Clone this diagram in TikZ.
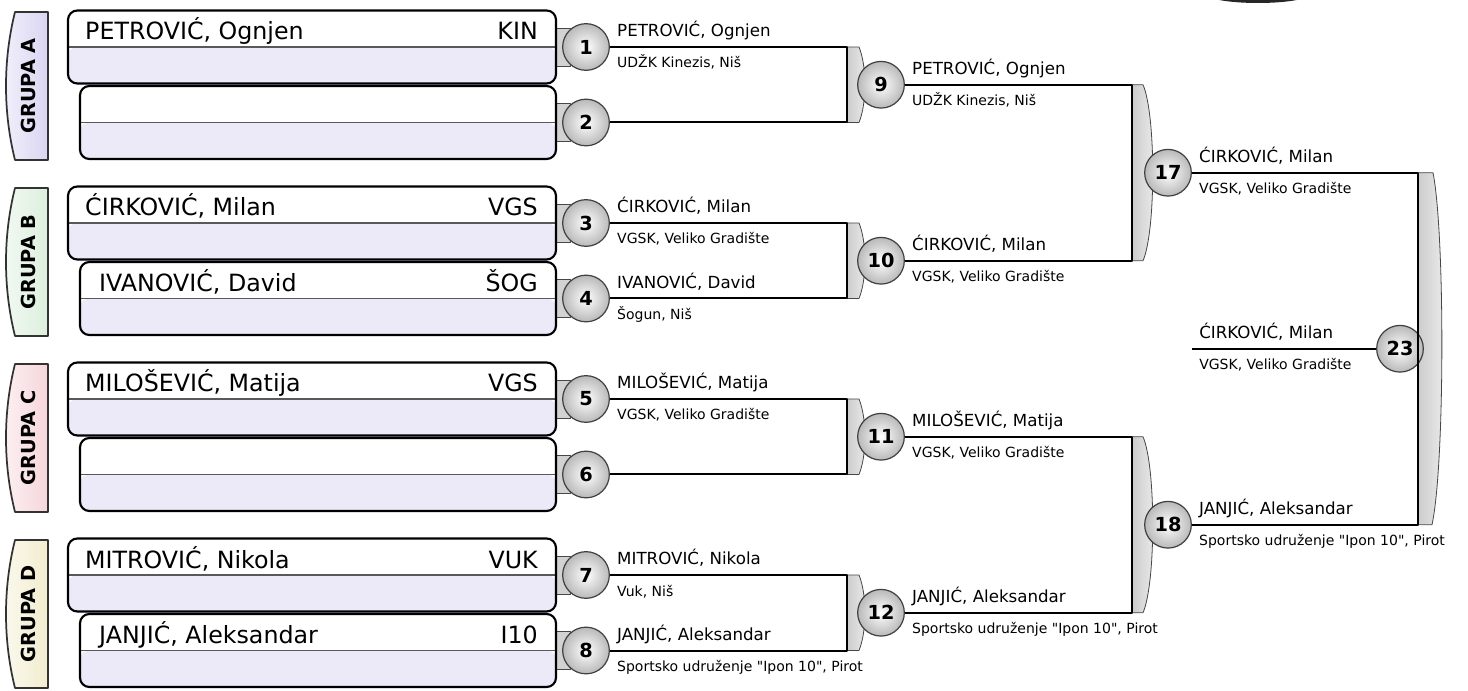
\documentclass[tikz,border=0pt]{standalone}
\usepackage{fontspec}
\newfontfamily\dejavu{DejaVu Sans}
\usetikzlibrary{calc,positioning}
\definecolor{donja}{HTML}{ECE9F8}
\definecolor{grupaA}{HTML}{D9D5F2}
\definecolor{grupaB}{HTML}{DCEFDD}
\definecolor{grupaC}{HTML}{F6D6DA}
\definecolor{grupaD}{HTML}{F2EDCF}
\begin{document}
\begin{tikzpicture}[x=0.75pt, y=-0.75pt, line join=round,
    ime/.style={font=\dejavu\fontsize{12.5}{14}\selectfont, anchor=base west, inner sep=0pt},
    klub/.style={font=\dejavu\fontsize{10.5}{12}\selectfont, anchor=base west, inner sep=0pt},
    upis/.style={font=\dejavu\fontsize{17.8}{20}\selectfont, inner sep=0pt},
    mec/.style={circle, draw=black!75, line width=0.9pt, minimum size=35pt, inner sep=0pt,
      inner color=white, outer color=gray!55, font=\dejavu\bfseries\fontsize{14.5}{16}\selectfont},
    veza/.style={line width=1.5pt},
    kutija/.style={draw, line width=1.6pt, rounded corners=7pt, fill=white,
      minimum height=54.75pt, inner sep=0pt,
      path picture={\fill[donja] (path picture bounding box.west) rectangle (path picture bounding box.south east);
        \draw[black!65, line width=0.8pt] (path picture bounding box.west) -- (path picture bounding box.east);}},
    jezicak/.style={fill=gray!35, draw=gray!55!black, line width=0.6pt},
    spojnica/.style={left color=gray!40, right color=gray!15, draw=gray!55!black, line width=0.6pt},
    grupa/.style={font=\dejavu\bfseries\fontsize{14.5}{16}\selectfont, rotate=90, inner sep=0pt}]
  \useasboundingbox (0,0) rectangle (1468,691);

  % tamni rub gore desno
  \fill[black!85] (1258,-6) ellipse [x radius=52, y radius=9];

  % oznake grupa
  \foreach \g/\s in {0/A,1/B,2/C,3/D} {
    \pgfmathsetmacro{\o}{176*\g}
    \draw[black!80, line width=1.3pt, left color=grupa\s!35, right color=grupa\s]
      (48,12+\o) -- (15,12+\o) .. controls (3,60+\o) and (3,112+\o) .. (15,160+\o) -- (48,160+\o) -- cycle;
    \node[grupa] (g\s) at (28,86+\o) {GRUPA \s};
  }

  % upisna polja i prvo kolo
  \foreach \i/\g/\r in {1/0/0, 2/0/1, 3/1/0, 4/1/1, 5/2/0, 6/2/1, 7/3/0, 8/3/1} {
    \pgfmathsetmacro{\y}{47+176*\g+75.5*\r}
    \pgfmathsetmacro{\xl}{68+12*\r}
    \pgfmathsetmacro{\w}{(556-\xl)*0.75}
    \draw[jezicak] (554,\y-19) rectangle (570,\y+19);
    \node[kutija, minimum width=\w pt] (k\i) at ({(\xl+556)/2},\y) {};
    \node[mec] (m\i) at (586,\y) {\i};
  }
  \foreach \i/\r/\ime/\oz in {1/0/{PETROVIĆ, Ognjen}/KIN, 3/0/{ĆIRKOVIĆ, Milan}/VGS,
      4/1/{IVANOVIĆ, David}/ŠOG, 5/0/{MILOŠEVIĆ, Matija}/VGS,
      7/0/{MITROVIĆ, Nikola}/VUK, 8/1/{JANJIĆ, Aleksandar}/I10} {
    \node[upis, anchor=base west] (u\i) at ([shift={(18+2*\r,-7)}]k\i.west) {\ime};
    \node[upis, anchor=base east] (o\i) at ([shift={(-19,-7)}]k\i.east) {\oz};
  }

  % stupci
  \coordinate (kolo2) at (847,0);
  \coordinate (krug2) at (881,0);
  \coordinate (kolo3) at (1132,0);
  \coordinate (krug3) at (1168,0);
  \coordinate (kolo4) at (1418,0);
  \coordinate (krug4) at (1400,0);

  % drugo kolo
  \foreach \a/\b/\c in {1/2/9, 3/4/10, 5/6/11, 7/8/12} {
    \draw[spojnica] (m\a -| kolo2) -- ++(12,0)
      .. controls ++(8,20) and ($(m\b -| kolo2)+(20,-20)$) .. ($(m\b -| kolo2)+(12,0)$)
      -- (m\b -| kolo2) -- cycle;
    \node[mec] (m\c) at ($(m\a -| krug2)!0.5!(m\b -| krug2)$) {\c};
    \draw[veza] (m\a) -- (m\a -| kolo2) -- (m\b -| kolo2) -- (m\b);
  }

  % trece kolo
  \foreach \a/\b/\c in {9/10/17, 11/12/18} {
    \draw[spojnica] (m\a -| kolo3) -- ++(11,0)
      .. controls ++(13,30) and ($(m\b -| kolo3)+(24,-30)$) .. ($(m\b -| kolo3)+(11,0)$)
      -- (m\b -| kolo3) -- cycle;
    \node[mec] (m\c) at ($(m\a -| krug3)!0.5!(m\b -| krug3)$) {\c};
    \draw[veza] (m\a) -- (m\a -| kolo3) -- (m\b -| kolo3) -- (m\b);
  }

  % finale
  \draw[spojnica] (m17 -| kolo4) -- ++(15,0)
    .. controls ++(12,60) and ($(m18 -| kolo4)+(27,-60)$) .. ($(m18 -| kolo4)+(14,0)$)
    -- (m18 -| kolo4) -- cycle;
  \node[mec] (m23) at ($(m17 -| krug4)!0.5!(m18 -| krug4)$) {23};
  \draw[veza] (m17) -- (m17 -| kolo4) -- (m18 -| kolo4) -- (m18);
  \coordinate (p23) at ([shift={(-208,0)}]m23.center);
  \draw[veza] (p23) -- (m23);

  % imena i klubovi
  \foreach \m/\ime/\klub in {1/{PETROVIĆ, Ognjen}/{UDŽK Kinezis, Niš},
      3/{ĆIRKOVIĆ, Milan}/{VGSK, Veliko Gradište},
      4/{IVANOVIĆ, David}/{Šogun, Niš},
      5/{MILOŠEVIĆ, Matija}/{VGSK, Veliko Gradište},
      7/{MITROVIĆ, Nikola}/{Vuk, Niš},
      8/{JANJIĆ, Aleksandar}/{Sportsko udruženje "Ipon 10", Pirot},
      9/{PETROVIĆ, Ognjen}/{UDŽK Kinezis, Niš},
      10/{ĆIRKOVIĆ, Milan}/{VGSK, Veliko Gradište},
      11/{MILOŠEVIĆ, Matija}/{VGSK, Veliko Gradište},
      12/{JANJIĆ, Aleksandar}/{Sportsko udruženje "Ipon 10", Pirot},
      17/{ĆIRKOVIĆ, Milan}/{VGSK, Veliko Gradište},
      18/{JANJIĆ, Aleksandar}/{Sportsko udruženje "Ipon 10", Pirot}} {
    \node[ime] (i\m) at ([shift={(7,-10)}]m\m.east) {\ime};
    \node[klub] (c\m) at ([shift={(7,21)}]m\m.east) {\klub};
  }
  \node[ime] (i23) at ([shift={(7,-10)}]p23) {ĆIRKOVIĆ, Milan};
  \node[klub] (c23) at ([shift={(7,21)}]p23) {VGSK, Veliko Gradište};
\end{tikzpicture}
\end{document}
